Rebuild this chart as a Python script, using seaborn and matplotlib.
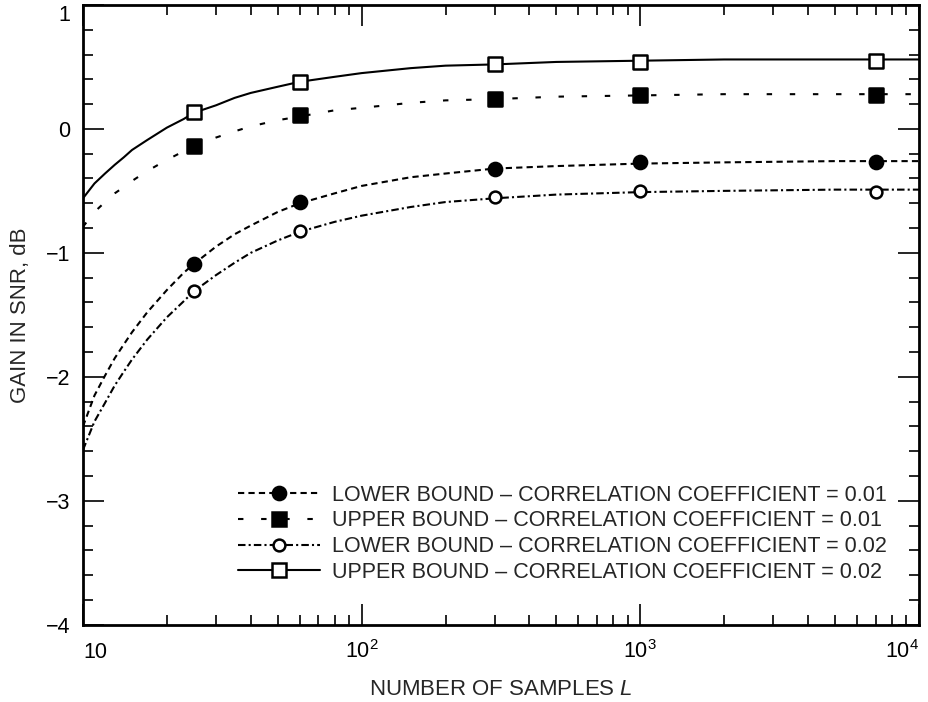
import pandas as pd
import seaborn as sns
import matplotlib.pyplot as plt
from matplotlib.lines import Line2D
from matplotlib.ticker import FixedLocator, MultipleLocator, NullFormatter, FuncFormatter

# Curves (gain in dB vs number of samples L)
curve_L = [10, 11, 12, 13, 14, 15, 17, 20, 23, 25, 30, 35, 40, 50, 60, 80,
           100, 150, 200, 300, 500, 1000, 2000, 5000, 10000]
lower_001 = [-2.40, -2.15, -1.99, -1.85, -1.74, -1.64, -1.48, -1.30, -1.16, -1.09,
             -0.95, -0.85, -0.78, -0.67, -0.60, -0.52, -0.46, -0.39, -0.36, -0.32,
             -0.30, -0.28, -0.27, -0.26, -0.26]
upper_001 = [-0.79, -0.67, -0.59, -0.52, -0.47, -0.42, -0.34, -0.25, -0.18, -0.14,
             -0.07, -0.02, 0.02, 0.07, 0.10, 0.15, 0.17, 0.21, 0.23, 0.24,
             0.26, 0.27, 0.28, 0.28, 0.28]
lower_002 = [-2.59, -2.36, -2.21, -2.07, -1.96, -1.86, -1.70, -1.52, -1.39, -1.31,
             -1.18, -1.08, -1.00, -0.90, -0.83, -0.75, -0.70, -0.63, -0.59, -0.56,
             -0.53, -0.51, -0.50, -0.49, -0.49]
upper_002 = [-0.56, -0.44, -0.36, -0.29, -0.23, -0.17, -0.09, 0.01, 0.08, 0.13,
             0.19, 0.25, 0.29, 0.34, 0.38, 0.42, 0.45, 0.49, 0.51, 0.52,
             0.54, 0.55, 0.56, 0.56, 0.56]

# Marker points
marker_L = [25, 60, 300, 1000, 7000]
lower_001_pts = [-1.09, -0.59, -0.32, -0.27, -0.27]
upper_001_pts = [-0.14, 0.11, 0.24, 0.27, 0.27]
lower_002_pts = [-1.31, -0.82, -0.55, -0.50, -0.51]
upper_002_pts = [0.14, 0.38, 0.52, 0.54, 0.55]

labels = ["LOWER BOUND \u2013 CORRELATION COEFFICIENT = 0.01",
          "UPPER BOUND \u2013 CORRELATION COEFFICIENT = 0.01",
          "LOWER BOUND \u2013 CORRELATION COEFFICIENT = 0.02",
          "UPPER BOUND \u2013 CORRELATION COEFFICIENT = 0.02"]

sns.set_style("ticks")
plt.rcParams['font.family'] = ['Liberation Sans', 'DejaVu Sans']
plt.rcParams['mathtext.fontset'] = 'custom'
plt.rcParams['mathtext.rm'] = 'Liberation Sans'
plt.rcParams['mathtext.it'] = 'Liberation Sans:italic'

fig = plt.figure(figsize=(9.29, 7.02), dpi=100)
ax = fig.add_axes([0.0893, 0.110, 0.8999, 0.883])

lw = 1.5
styles = [
    dict(curve=lower_001, pts=lower_001_pts, ls=(0, (3, 2)), marker='o', fill='black', ms=9.5),
    dict(curve=upper_001, pts=upper_001_pts, ls=(0, (2.6, 8.5)), marker='s', fill='black', ms=10),
    dict(curve=lower_002, pts=lower_002_pts, ls=(0, (3.6, 1.5, 1, 1.5)), marker='o', fill='white', ms=8.5),
    dict(curve=upper_002, pts=upper_002_pts, ls='-', marker='s', fill='white', ms=9.5),
]

handles = []
for st, lab in zip(styles, labels):
    sns.lineplot(x=curve_L, y=st['curve'], ax=ax, color='black', linewidth=lw,
                 linestyle=st['ls'], estimator=None, sort=False, legend=False)
    sns.scatterplot(x=marker_L, y=st['pts'], ax=ax, marker=st['marker'],
                    s=st['ms'] ** 2, color=st['fill'], edgecolor='black',
                    linewidth=1.8, zorder=5, legend=False)
    handles.append(Line2D([], [], color='black', linewidth=lw, linestyle=st['ls'],
                          marker=st['marker'], markersize=st['ms'],
                          markerfacecolor=st['fill'], markeredgecolor='black',
                          markeredgewidth=1.8))

ax.set_xscale('log')
ax.set_xlim(10, 1e4)
ax.set_ylim(-4, 1)

ax.xaxis.set_major_locator(FixedLocator([10, 100, 1000, 10000]))
ax.set_xticklabels(['10', '$10^2$', '$10^3$', '$10^4$'])
ax.xaxis.set_minor_locator(FixedLocator([m * 10 ** e for e in range(1, 4) for m in range(2, 10)]))
ax.xaxis.set_minor_formatter(NullFormatter())
ax.yaxis.set_major_locator(FixedLocator([-4, -3, -2, -1, 0, 1]))
ax.yaxis.set_minor_locator(MultipleLocator(0.2))
ax.yaxis.set_major_formatter(FuncFormatter(lambda v, p: f"{int(round(v))}".replace('-', '\u2212')))

ax.tick_params(which='both', direction='in', top=True, right=True, labelsize=15.5, colors='black')
ax.tick_params(which='major', length=15, width=1.2)
ax.tick_params(which='minor', length=7, width=1.2)
ax.tick_params(axis='x', which='major', pad=24)
ax.tick_params(axis='y', which='major', pad=9)
for sp in ax.spines.values():
    sp.set_linewidth(2)
    sp.set_color('black')

xt = ax.get_xticklabels()
plt.setp(xt, va='baseline')
xt[0].set_ha('left')
xt[-1].set_ha('right')
yt = ax.get_yticklabels()
yt[-1].set_va('top')

ax.set_xlabel('NUMBER OF SAMPLES $\\mathit{L}$', fontsize=16)
ax.set_ylabel('GAIN IN SNR, dB', fontsize=16)
ax.xaxis.set_label_coords(0.5, -0.105)
ax.xaxis.label.set_va('center')
ax.yaxis.set_label_coords(-0.075, 0.5)
ax.yaxis.label.set_va('center')

ax.legend(handles, labels, loc='upper left', bbox_to_anchor=(0.175, 0.24),
          frameon=False, fontsize=15.5, handlelength=3.8, handletextpad=0.55,
          labelspacing=0.22, borderaxespad=0, numpoints=1)

plt.savefig('out.png', dpi=100)
